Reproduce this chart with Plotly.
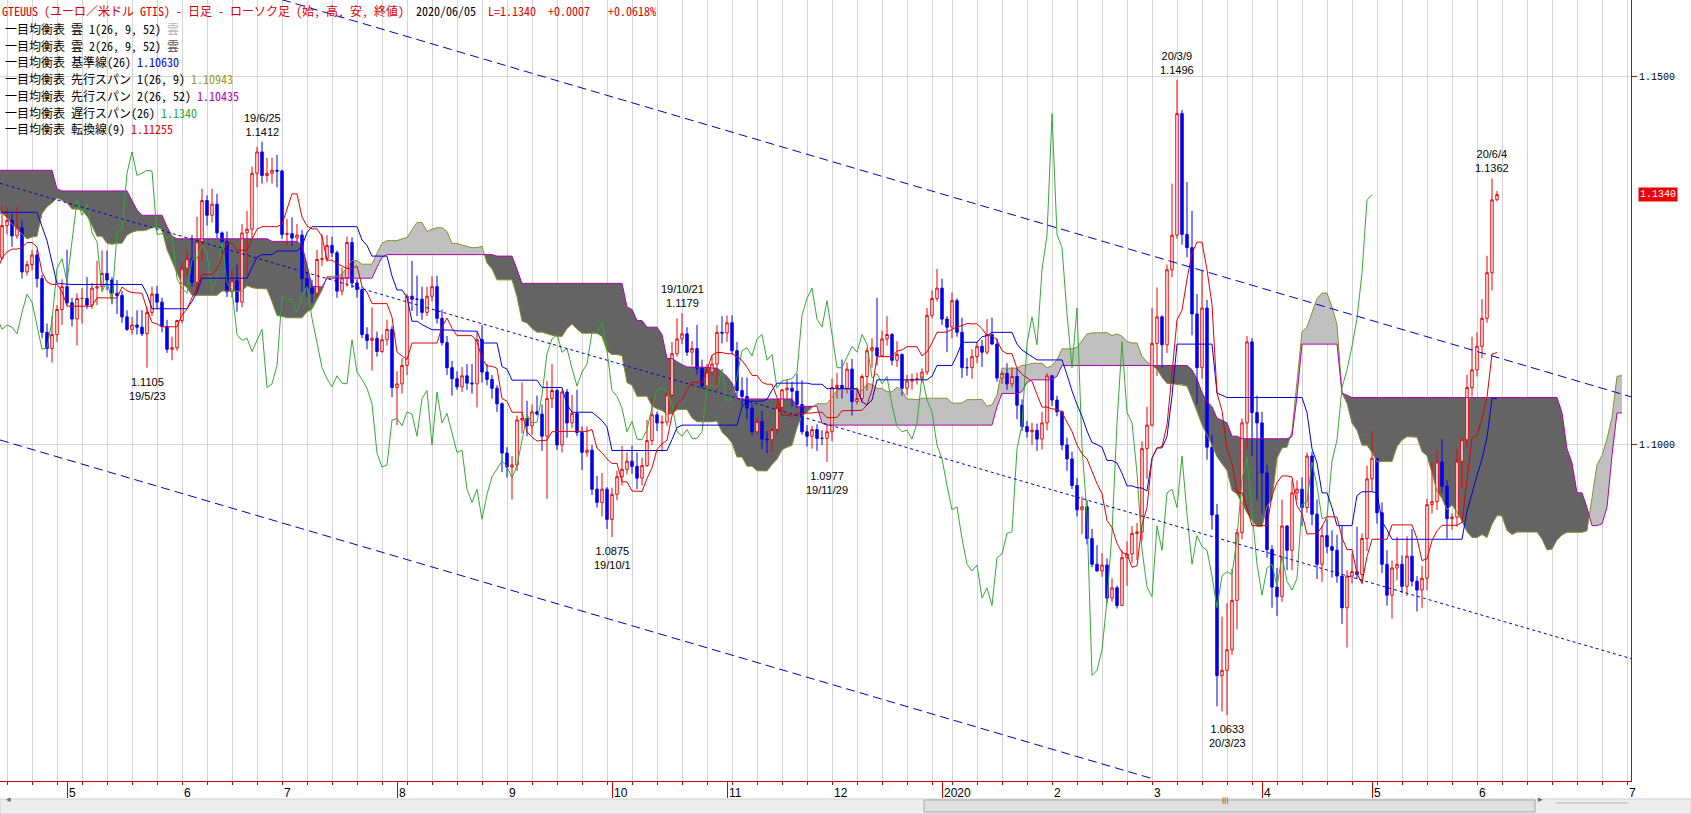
import numpy as np
import pandas as pd
import plotly.graph_objects as go

# ---------------- DATA (prices stored as pips above 1.0000, e.g. 1406 -> 1.1406) ----------------
opens = [
    1370, 1406, 1355, 1432, 1442,  # 2018-12
    1466, 1344, 1393, 1394, 1473, 1442, 1540, 1500, 1467, 1470, 1413, 1394, 1390, 1364, 1365, 1362, 1385, 1303, 1407, 1428, 1432, 1482,  # 2019-01
    1448, 1456, 1436, 1406, 1375, 1341, 1325, 1276, 1327, 1260, 1295, 1296, 1311, 1342, 1343, 1337, 1333, 1357, 1390, 1370,  # 2019-02
    1370, 1364, 1338, 1307, 1307, 1193, 1234, 1247, 1286, 1328, 1307, 1326, 1340, 1351, 1418, 1374, 1300, 1313, 1263, 1249, 1222,  # 2019-03
    1216, 1213, 1203, 1236, 1220, 1216, 1262, 1263, 1276, 1254, 1298, 1305, 1284, 1295, 1235, 1245, 1258, 1226, 1153, 1131, 1150, 1184,  # 2019-04
    1215, 1193, 1171, 1199, 1199, 1190, 1213, 1215, 1233, 1224, 1206, 1203, 1174, 1157, 1163, 1160, 1151, 1180, 1205, 1194, 1161, 1130, 1132,  # 2019-05
    1169, 1240, 1253, 1221, 1276, 1332, 1312, 1327, 1288, 1276, 1208, 1223, 1194, 1288, 1293, 1369, 1398, 1366, 1369, 1373,  # 2019-06
    1372, 1286, 1287, 1281, 1285, 1226, 1213, 1206, 1252, 1253, 1271, 1261, 1209, 1227, 1275, 1220, 1211, 1150, 1142, 1145, 1127, 1143, 1157,  # 2019-07
    1078, 1083, 1108, 1202, 1198, 1198, 1180, 1202, 1215, 1172, 1139, 1105, 1090, 1079, 1094, 1084, 1083, 1143, 1099, 1089, 1077, 1056,  # 2019-08
    989, 970, 973, 1034, 1036, 1026, 1045, 1042, 1012, 1063, 1074, 1000, 1072, 1030, 1043, 1017, 990, 993, 940, 922, 940,  # 2019-09
    899, 933, 957, 967, 978, 971, 955, 972, 1006, 1041, 1030, 1031, 1068, 1124, 1144, 1151, 1126, 1131, 1104, 1080, 1099, 1110, 1153,  # 2019-10
    1152, 1166, 1128, 1074, 1066, 1050, 1018, 1032, 1008, 1007, 1021, 1051, 1075, 1077, 1073, 1055, 1018, 1012, 1021, 1009, 1009,  # 2019-11
    1018, 1078, 1081, 1077, 1103, 1059, 1063, 1093, 1128, 1132, 1121, 1144, 1150, 1115, 1123, 1077, 1087, 1089, 1090, 1099, 1176, 1199,  # 2019-12
    1213, 1171, 1160, 1196, 1153, 1105, 1105, 1120, 1134, 1126, 1150, 1137, 1091, 1097, 1083, 1093, 1054, 1025, 1018, 1020, 1008, 1030,  # 2020-01
    1094, 1061, 1045, 1000, 981, 945, 912, 916, 873, 838, 829, 837, 792, 806, 782, 847, 852, 880, 882, 995,  # 2020-02
    1027, 1138, 1174, 1136, 1238, 1285, 1450, 1286, 1268, 1178, 1105, 1186, 997, 905, 687, 694, 722, 789, 881, 1030, 1140, 1044,  # 2020-03
    1030, 962, 858, 807, 794, 890, 857, 935, 940, 915, 985, 906, 838, 877, 862, 857, 822, 779, 822, 828, 824, 873,  # 2020-04
    954, 982, 908, 838, 796, 833, 838, 808, 849, 815, 803, 819, 919, 923, 977, 944, 900, 902, 978, 1007, 1078,  # 2020-05
    1102, 1134, 1172, 1234, 1333,  # 2020-06
]
highs = [
    1446, 1418, 1444, 1475, 1476,
    1497, 1412, 1412, 1484, 1480, 1544, 1570, 1519, 1486, 1475, 1420, 1411, 1400, 1379, 1384, 1404, 1418, 1417, 1440, 1452, 1490, 1514,
    1488, 1462, 1446, 1412, 1384, 1357, 1331, 1342, 1341, 1313, 1304, 1318, 1362, 1372, 1369, 1360, 1370, 1407, 1420, 1401,
    1400, 1374, 1347, 1320, 1320, 1245, 1258, 1292, 1339, 1338, 1341, 1358, 1362, 1448, 1436, 1385, 1324, 1326, 1288, 1255, 1248,
    1255, 1230, 1255, 1253, 1240, 1269, 1282, 1288, 1286, 1324, 1323, 1314, 1324, 1305, 1250, 1265, 1265, 1231, 1165, 1175, 1190, 1225,
    1265, 1200, 1206, 1213, 1228, 1220, 1250, 1264, 1264, 1228, 1224, 1209, 1183, 1174, 1183, 1183, 1187, 1215, 1216, 1200, 1170, 1147, 1170,
    1248, 1264, 1285, 1310, 1348, 1339, 1348, 1341, 1290, 1290, 1238, 1245, 1300, 1318, 1378, 1405, 1412, 1390, 1390, 1394,
    1374, 1307, 1309, 1300, 1292, 1235, 1224, 1265, 1286, 1285, 1283, 1264, 1241, 1283, 1282, 1225, 1215, 1160, 1187, 1154, 1150, 1170, 1162,
    1100, 1118, 1205, 1250, 1230, 1215, 1215, 1229, 1230, 1184, 1148, 1114, 1100, 1106, 1110, 1110, 1154, 1163, 1110, 1095, 1081, 1058,
    997, 985, 1040, 1085, 1060, 1055, 1067, 1055, 1087, 1110, 1076, 1075, 1076, 1068, 1075, 1025, 1025, 1000, 958, 962, 943,
    942, 965, 999, 990, 999, 990, 983, 1034, 1063, 1045, 1040, 1073, 1140, 1172, 1179, 1160, 1141, 1163, 1116, 1110, 1122, 1163, 1175,
    1176, 1176, 1140, 1092, 1092, 1056, 1037, 1046, 1019, 1023, 1056, 1076, 1089, 1086, 1097, 1088, 1027, 1026, 1028, 1020, 1028,
    1090, 1098, 1116, 1112, 1117, 1078, 1096, 1132, 1145, 1200, 1155, 1175, 1152, 1141, 1124, 1095, 1097, 1098, 1104, 1186, 1210, 1239,
    1226, 1175, 1207, 1199, 1173, 1118, 1130, 1140, 1143, 1171, 1173, 1145, 1100, 1111, 1106, 1105, 1062, 1033, 1030, 1029, 1045, 1097,
    1095, 1067, 1047, 1010, 991, 955, 930, 925, 886, 864, 853, 846, 819, 809, 857, 869, 890, 894, 1005, 1052,
    1186, 1214, 1176, 1245, 1355, 1496, 1455, 1357, 1318, 1205, 1237, 1197, 1014, 920, 767, 785, 832, 886, 1036, 1148, 1145, 1067,
    1045, 973, 864, 833, 926, 891, 952, 952, 956, 990, 991, 926, 890, 899, 884, 878, 891, 830, 853, 889, 880, 972,
    1019, 982, 922, 857, 843, 875, 850, 876, 886, 822, 836, 927, 976, 993, 1008, 952, 907, 995, 1011, 1095, 1147,
    1153, 1198, 1257, 1362, 1345,
]
lows = [
    1365, 1345, 1340, 1425, 1425,
    1324, 1310, 1348, 1390, 1425, 1438, 1482, 1456, 1431, 1400, 1371, 1367, 1355, 1348, 1330, 1355, 1289, 1296, 1400, 1412, 1420, 1440,
    1432, 1420, 1390, 1360, 1334, 1318, 1265, 1268, 1254, 1249, 1234, 1285, 1290, 1326, 1317, 1315, 1325, 1340, 1363, 1360,
    1355, 1325, 1290, 1283, 1176, 1185, 1222, 1243, 1278, 1294, 1299, 1316, 1331, 1340, 1364, 1270, 1287, 1257, 1244, 1210, 1211,
    1203, 1184, 1200, 1216, 1208, 1212, 1252, 1234, 1248, 1251, 1286, 1269, 1280, 1226, 1230, 1237, 1214, 1145, 1119, 1112, 1140, 1163,
    1190, 1161, 1135, 1165, 1185, 1185, 1190, 1210, 1210, 1191, 1178, 1166, 1155, 1150, 1150, 1148, 1105, 1175, 1185, 1153, 1125, 1115, 1128,
    1165, 1230, 1215, 1205, 1250, 1298, 1302, 1281, 1260, 1201, 1200, 1181, 1187, 1230, 1280, 1350, 1355, 1357, 1355, 1350,
    1280, 1271, 1270, 1275, 1207, 1201, 1193, 1200, 1243, 1249, 1255, 1200, 1203, 1215, 1213, 1200, 1145, 1130, 1101, 1120, 1125, 1135, 1065,
    1027, 1070, 1095, 1182, 1175, 1170, 1175, 1195, 1165, 1135, 1095, 1067, 1075, 1072, 1075, 1070, 1051, 1085, 1081, 1063, 1045, 963,
    956, 926, 965, 1016, 1012, 1014, 1040, 992, 927, 1050, 993, 990, 1010, 1023, 1012, 966, 984, 932, 915, 903, 886,
    875, 925, 945, 960, 961, 940, 945, 970, 1000, 1019, 991, 1026, 1065, 1120, 1137, 1121, 1108, 1096, 1077, 1072, 1094, 1073, 1138,
    1140, 1123, 1064, 1054, 1035, 1013, 1015, 994, 989, 990, 1013, 1046, 1062, 1052, 1050, 1014, 998, 995, 992, 1000, 977,
    1005, 1063, 1063, 1070, 1040, 1055, 1058, 1074, 1105, 1108, 1120, 1135, 1108, 1106, 1067, 1068, 1075, 1082, 1085, 1095, 1172, 1195,
    1163, 1126, 1145, 1147, 1091, 1094, 1090, 1111, 1106, 1123, 1136, 1086, 1083, 1075, 1078, 1035, 1019, 1010, 1000, 992, 994, 1020,
    1053, 1039, 993, 965, 940, 903, 879, 865, 834, 828, 821, 785, 787, 778, 782, 809, 840, 844, 870, 954,
    1025, 1094, 1105, 1125, 1228, 1280, 1272, 1255, 1149, 1055, 1090, 980, 885, 645, 638, 633, 715, 750, 872, 994, 985, 926,
    906, 847, 779, 768, 787, 830, 830, 925, 890, 908, 891, 818, 814, 853, 820, 813, 757, 725, 812, 818, 812, 856,
    936, 893, 826, 782, 764, 816, 799, 795, 808, 774, 779, 803, 907, 912, 935, 873, 885, 889, 942, 997, 1066,
    1093, 1118, 1166, 1210, 1331,
]
closes = [
    1406, 1355, 1432, 1442, 1466,
    1344, 1393, 1394, 1473, 1442, 1540, 1500, 1467, 1470, 1413, 1394, 1390, 1364, 1365, 1362, 1385, 1303, 1407, 1428, 1432, 1482, 1448,
    1456, 1436, 1406, 1375, 1341, 1325, 1276, 1327, 1260, 1295, 1296, 1311, 1342, 1343, 1337, 1333, 1357, 1390, 1370, 1370,
    1364, 1338, 1307, 1307, 1193, 1234, 1247, 1286, 1328, 1307, 1326, 1340, 1351, 1418, 1374, 1300, 1313, 1263, 1249, 1222, 1216,
    1213, 1203, 1236, 1220, 1216, 1262, 1263, 1276, 1254, 1298, 1305, 1284, 1295, 1235, 1245, 1258, 1226, 1153, 1131, 1150, 1184, 1215,
    1193, 1171, 1199, 1199, 1190, 1213, 1215, 1233, 1224, 1206, 1203, 1174, 1157, 1163, 1160, 1151, 1180, 1205, 1194, 1161, 1130, 1132, 1169,
    1240, 1253, 1221, 1276, 1332, 1312, 1327, 1288, 1276, 1208, 1223, 1194, 1288, 1293, 1369, 1398, 1366, 1369, 1373, 1372,
    1286, 1287, 1281, 1285, 1226, 1213, 1206, 1252, 1253, 1271, 1261, 1209, 1227, 1275, 1220, 1211, 1150, 1142, 1145, 1127, 1143, 1157, 1078,
    1083, 1108, 1202, 1198, 1198, 1180, 1202, 1215, 1172, 1139, 1105, 1090, 1079, 1094, 1084, 1083, 1143, 1099, 1089, 1077, 1056, 989,
    970, 973, 1034, 1036, 1026, 1045, 1042, 1012, 1063, 1074, 1000, 1072, 1030, 1043, 1017, 990, 993, 940, 922, 940, 899,
    933, 957, 967, 978, 971, 955, 972, 1006, 1041, 1030, 1031, 1068, 1124, 1144, 1151, 1126, 1131, 1104, 1080, 1099, 1110, 1153, 1152,
    1166, 1128, 1074, 1066, 1050, 1018, 1032, 1008, 1007, 1021, 1051, 1075, 1077, 1073, 1055, 1018, 1012, 1021, 1009, 1009, 1018,
    1078, 1081, 1077, 1103, 1059, 1063, 1093, 1128, 1132, 1121, 1144, 1150, 1115, 1123, 1077, 1087, 1089, 1090, 1099, 1176, 1199, 1213,
    1171, 1160, 1196, 1153, 1105, 1105, 1120, 1134, 1126, 1150, 1137, 1091, 1097, 1083, 1093, 1054, 1025, 1018, 1020, 1008, 1030, 1094,
    1061, 1045, 1000, 981, 945, 912, 916, 873, 838, 829, 837, 792, 806, 782, 847, 852, 880, 882, 995, 1027,
    1138, 1174, 1136, 1238, 1285, 1450, 1286, 1268, 1178, 1105, 1186, 997, 905, 687, 694, 722, 789, 881, 1030, 1140, 1044, 1030,
    962, 858, 807, 794, 890, 857, 935, 940, 915, 985, 906, 838, 877, 862, 857, 822, 779, 822, 828, 824, 873, 954,
    982, 908, 838, 796, 833, 838, 808, 849, 815, 803, 819, 919, 923, 977, 944, 900, 902, 978, 1007, 1078, 1102,
    1134, 1172, 1234, 1333, 1340,
]

first_day, last_day = "2018-12-24", "2020-06-05"
holidays = ["2018-12-25", "2019-01-01", "2020-01-01"]
view_start = "2019-04-12"

# labelled highs / lows
extremes = [
    ("2019-05-23", "low"), ("2019-06-25", "high"), ("2019-10-01", "low"), ("2019-10-21", "high"),
    ("2019-11-29", "low"), ("2020-03-09", "high"), ("2020-03-23", "low"), ("2020-06-04", "high"),
]
# hand-drawn trend channel: anchor (date, price)
trend_upper = [("2019-07-01", 1.16047), ("2020-06-01", 1.1127)]
trend_mid = [("2019-04-12", 1.13546), ("2020-06-01", 1.07709)]
trend_lower = [("2019-04-12", 1.1006), ("2020-03-02", 1.0547)]

TENKAN_N, KIJUN_N, SPANB_N, SHIFT = 9, 26, 52, 25

# ---------------- build ----------------
dates = [d for d in pd.bdate_range(first_day, last_day) if d.strftime("%Y-%m-%d") not in holidays]
n = len(dates)
for nm, arr in (("opens", opens), ("highs", highs), ("lows", lows), ("closes", closes)):
    assert len(arr) == n, (nm, len(arr), n)
pos = {d.strftime("%Y-%m-%d"): i for i, d in enumerate(dates)}

to_price = lambda a: 1.0 + np.asarray(a, dtype=float) / 10000.0
O, Hh, Ll, C = to_price(opens), to_price(highs), to_price(lows), to_price(closes)
idx = np.arange(n)

hs, ls = pd.Series(Hh), pd.Series(Ll)
tenkan = ((hs.rolling(TENKAN_N).max() + ls.rolling(TENKAN_N).min()) / 2).values
kijun = ((hs.rolling(KIJUN_N).max() + ls.rolling(KIJUN_N).min()) / 2).values
spanA = (tenkan + kijun) / 2
spanB = ((hs.rolling(SPANB_N).max() + ls.rolling(SPANB_N).min()) / 2).values
x_span = idx + SHIFT
x_chikou = idx - SHIFT

# geometry
W, HGT = 1691, 814
ML, MR, MT, MB = 0, 60, 0, 33
PW, PH = W - ML - MR, HGT - MT - MB
PX_PER_SLOT, FIRST_PX = 5.0, 2.0
i0 = pos[view_start]
x_lo = i0 - FIRST_PX / PX_PER_SLOT
x_hi = x_lo + PW / PX_PER_SLOT
y_lo, y_hi = 1.05437, 1.16043

RED = "#e00000"
BLUE = "#0000e0"
GREEN = "#33aa33"
OLIVE = "#8c8c30"
PURPLE = "#b000b0"
CLOUD_UP = "#c0c0c0"
CLOUD_DN = "#646464"
TREND = "#0000c0"
GRID = "#d4d4d4"
AXIS_RED = "#d00000"
JP = "Noto Sans Mono CJK JP, Noto Sans CJK JP, monospace"

fig = go.Figure()

# candles
fig.add_trace(go.Candlestick(
    x=idx, open=O, high=Hh, low=Ll, close=C,
    increasing=dict(line=dict(color="#ee0000", width=1), fillcolor="#ffffff"),
    decreasing=dict(line=dict(color="#0000ee", width=1), fillcolor="#0000ee"),
    whiskerwidth=0, hoverinfo="skip", showlegend=False,
))

# cloud polygons (split where the spans cross)
shapes = []
def add_poly(top, bot, up):
    pts = top + bot[::-1]
    path = "M " + " L ".join(f"{x:.4f},{y:.6f}" for x, y in pts) + " Z"
    shapes.append(dict(type="path", path=path, xref="x", yref="y", layer="between",
                       line=dict(width=0), fillcolor=CLOUD_UP if up else CLOUD_DN))

valid = np.where(~np.isnan(spanA) & ~np.isnan(spanB))[0]
cur_a, cur_b, cur_up = [], [], None
prev = None
for j in valid:
    a, b, x = spanA[j], spanB[j], float(x_span[j])
    up = a >= b
    if cur_up is None:
        cur_up, cur_a, cur_b = up, [(x, a)], [(x, b)]
    elif up != cur_up:
        ap, bp, xp = spanA[prev], spanB[prev], float(x_span[prev])
        d0, d1 = ap - bp, a - b
        t = d0 / (d0 - d1)
        xc, yc = xp + t * (x - xp), ap + t * (a - ap)
        cur_a.append((xc, yc)); cur_b.append((xc, yc))
        add_poly(cur_a, cur_b, cur_up)
        cur_up, cur_a, cur_b = up, [(xc, yc), (x, a)], [(xc, yc), (x, b)]
    else:
        cur_a.append((x, a)); cur_b.append((x, b))
    prev = j
if cur_a:
    add_poly(cur_a, cur_b, cur_up)

def line(x, y, color, dash=None, width=1):
    fig.add_trace(go.Scatter(x=x, y=y, mode="lines", line=dict(color=color, width=width, dash=dash),
                             hoverinfo="skip", showlegend=False))

line(x_span, spanA, OLIVE)
line(x_span, spanB, PURPLE)
line(x_chikou, C, GREEN)
line(idx, kijun, BLUE)
line(idx, tenkan, RED)

# trend channel
def trend(anchors, x_start, x_end, dash):
    (d1, p1), (d2, p2) = anchors
    xa, xb = pos[d1], pos[d2]
    slope = (p2 - p1) / (xb - xa)
    xs = np.array([x_start, x_end])
    line(xs, p1 + slope * (xs - xa), TREND, dash=dash)

trend(trend_upper, x_lo, x_hi, "9px,5px")
trend(trend_mid, x_lo, x_hi, "3px,3px")
trend(trend_lower, x_lo, pos[trend_lower[1][0]], "9px,5px")

# ticks: month starts, weekly grid on Mondays
future = pd.bdate_range(dates[-1] + pd.Timedelta(days=1), periods=40)
all_slots = list(dates) + list(future)
mondays = [i for i, d in enumerate(all_slots) if d.weekday() == 0 and x_lo <= i <= x_hi]
month_ticks, month_text = [], []
for i in range(i0 + 1, n):
    if dates[i].month != dates[i - 1].month:
        month_ticks.append(i)
        month_text.append(str(dates[i].year) if dates[i].month == 1 else str(dates[i].month))
month_ticks.append(n - 1 + SHIFT + 1)
month_text.append(str((dates[-1].month % 12) + 1))

annotations = []
for v, t in zip(month_ticks, month_text):
    annotations.append(dict(x=v, y=0, xref="x", yref="paper", xanchor="left", yanchor="top",
                            xshift=0, yshift=-3, text=t, showarrow=False,
                            font=dict(family="Liberation Sans", size=12, color="#000")))

# extreme labels
for d, kind in extremes:
    i = pos[d]
    dt = dates[i]
    dlab = f"{dt.year % 100}/{dt.month}/{dt.day}"
    if kind == "high":
        annotations.append(dict(x=i, y=Hh[i], xref="x", yref="y", yanchor="bottom", yshift=2,
                                text=f"{dlab}<br>{Hh[i]:.4f}", showarrow=False,
                                font=dict(family="Liberation Sans", size=11, color="#000")))
    else:
        annotations.append(dict(x=i, y=Ll[i], xref="x", yref="y", yanchor="top", yshift=-6,
                                text=f"{Ll[i]:.4f}<br>{dlab}", showarrow=False,
                                font=dict(family="Liberation Sans", size=11, color="#000")))

# title + legend
last_c, prev_c = C[-1], C[-2]
chg = last_c - prev_c
pct = chg / prev_c * 100
fmt5 = lambda v: f"{v + 1e-9:.5f}"
title = (f"<span style='color:#dd0000'>GTEUUS (ユーロ／米ドル GTIS) - 日足 - ローソク足 (始, 高, 安, 終値)</span>"
         f"  {dates[-1].strftime('%Y/%m/%d')}  "
         f"<span style='color:#dd0000'>L={last_c:.4f}  {chg:+.4f}   {pct:+.4f}%</span>")
legend_rows = [
    ("一目均衡表 雲 1(26, 9, 52) ", "雲", "#b4b4b4"),
    ("一目均衡表 雲 2(26, 9, 52) ", "雲", "#555555"),
    ("一目均衡表 基準線(26) ", fmt5(kijun[-1]), BLUE),
    ("一目均衡表 先行スパン 1(26, 9) ", fmt5(spanA[-1]), "#999922"),
    ("一目均衡表 先行スパン 2(26, 52) ", fmt5(spanB[-1]), PURPLE),
    ("一目均衡表 遅行スパン(26) ", f"{last_c:.4f}", GREEN),
    ("一目均衡表 転換線(9) ", fmt5(tenkan[-1]), RED),
]
def ypix(Y):
    return 1 - Y / PH
annotations.append(dict(x=0, y=ypix(11), xref="paper", yref="paper", xanchor="left", yanchor="middle",
                        xshift=0, text=title, showarrow=False, font=dict(family=JP, size=12, color="#000")))
for k, (lab, val, col) in enumerate(legend_rows):
    annotations.append(dict(x=0, y=ypix(28.3 + 16.75 * k), xref="paper", yref="paper", xanchor="left",
                            yanchor="middle", xshift=3,
                            text=f"{lab}<span style='color:{col}'>{val}</span>", showarrow=False,
                            font=dict(family=JP, size=12, color="#000")))

# last price tag
annotations.append(dict(x=1, y=last_c, xref="paper", yref="y", xanchor="left", yanchor="middle",
                        xshift=7, text=f"{last_c:.4f}", showarrow=False, bgcolor="#ee0000",
                        borderpad=1, font=dict(family="Liberation Mono", size=10, color="#ffffff")))

# scrollbar strip at bottom
def ypaper(Y):
    return (PH - Y) / PH
shapes.append(dict(type="rect", xref="paper", yref="paper", x0=0, x1=W / PW, y0=ypaper(814), y1=ypaper(799),
                   fillcolor="#ededed", line=dict(color="#d0d0d0", width=1), layer="above"))
shapes.append(dict(type="rect", xref="paper", yref="paper", x0=924 / PW, x1=1535 / PW, y0=ypaper(812),
                   y1=ypaper(800), fillcolor="#e0e0e0", line=dict(color="#a8a8a8", width=1), layer="above"))
shapes.append(dict(type="line", xref="paper", yref="paper", x0=1556 / PW, x1=1628 / PW, y0=ypaper(803),
                   y1=ypaper(803), line=dict(color="#b0b0b0", width=1), layer="above"))
annotations.append(dict(x=(924 + 1535) / 2 / PW, y=ypaper(806), xref="paper", yref="paper", text="|||",
                        showarrow=False, font=dict(family="Liberation Sans", size=8, color="#555")))
annotations.append(dict(x=4 / PW, y=ypaper(806), xref="paper", yref="paper", text="◂",
                        showarrow=False, font=dict(family="DejaVu Sans", size=9, color="#666")))
annotations.append(dict(x=1545 / PW, y=ypaper(806), xref="paper", yref="paper", text="▸",
                        showarrow=False, font=dict(family="DejaVu Sans", size=9, color="#666")))

fig.update_layout(
    width=W, height=HGT,
    margin=dict(l=ML, r=MR, t=MT, b=MB, pad=0),
    paper_bgcolor="#ffffff", plot_bgcolor="#ffffff",
    showlegend=False, hovermode=False, dragmode=False,
    shapes=shapes, annotations=annotations,
    xaxis=dict(
        range=[x_lo, x_hi], rangeslider=dict(visible=False),
        tickmode="array", tickvals=month_ticks, ticktext=[""] * len(month_ticks),
        ticks="outside", ticklen=16, tickcolor=AXIS_RED, tickwidth=1,
        showgrid=False, zeroline=False, showline=True, linecolor=AXIS_RED, linewidth=1,
        minor=dict(tickmode="array", tickvals=mondays, ticks="outside", ticklen=3,
                   tickcolor=AXIS_RED, showgrid=True, gridcolor=GRID, gridwidth=1),
    ),
    yaxis=dict(
        range=[y_lo, y_hi], side="right",
        tickmode="array", tickvals=[1.10, 1.15], ticktext=["1.1000", "1.1500"],
        ticks="outside", ticklen=5, tickcolor=AXIS_RED,
        tickfont=dict(family="Liberation Mono", size=10, color="#000"),
        showgrid=True, gridcolor=GRID, zeroline=False,
        showline=True, linecolor=AXIS_RED, linewidth=1,
    ),
)

fig.write_html(
    "out.html",
    config={"displayModeBar": False, "staticPlot": True},
    post_script="document.body.style.margin='0px';document.body.style.overflow='hidden';",
)
